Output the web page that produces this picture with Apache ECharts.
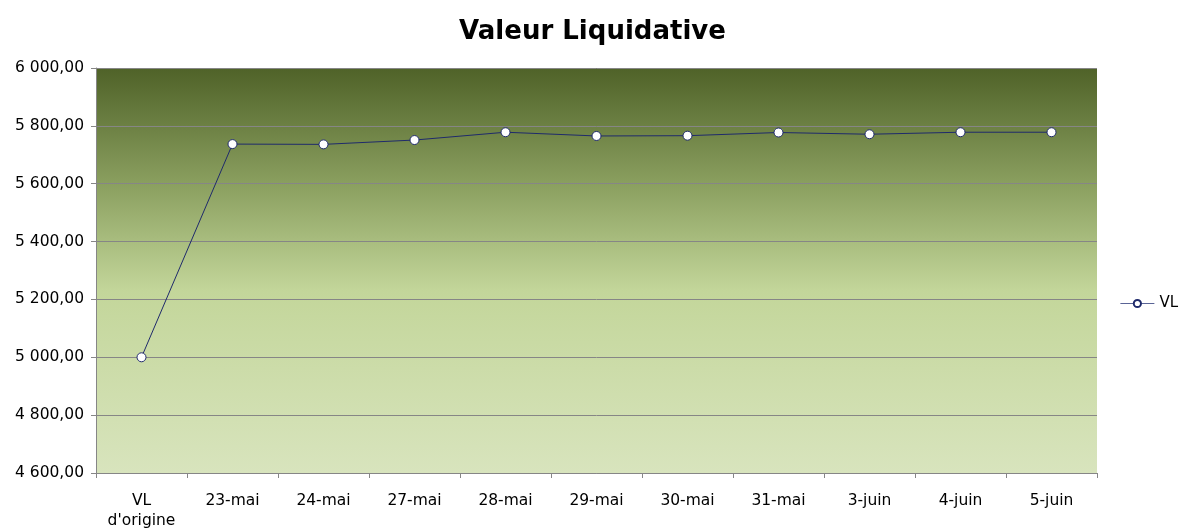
<!DOCTYPE html>
<html lang="fr">
<head>
    <meta http-equiv="Content-Type" content="text/html" charset="UTF-8">
    <script type="text/javascript" src="https://cdn.jsdelivr.net/npm/echarts@6/dist/echarts.min.js"></script>
    <style>
        html, body { margin: 0; padding: 0; background: #fff; }
        #chart { width: 1185px; height: 531px; }
    </style>
</head>
<body>
<div id="chart"></div>
<script type="text/javascript">
    var categories = ["VL\nd'origine", '23-mai', '24-mai', '27-mai', '28-mai', '29-mai', '30-mai', '31-mai', '3-juin', '4-juin', '5-juin'];
    var vlValues = [5000, 5737, 5736, 5751, 5778, 5765, 5766, 5777, 5771, 5778, 5778];

    function fmt(v) {
        var s = Math.round(v).toString().replace(/\B(?=(\d{3})+(?!\d))/g, ' ');
        return s + ',00';
    }

    var chart = echarts.init(document.getElementById('chart'));
    chart.setOption({
        animation: false,
        textStyle: { fontFamily: 'DejaVu Sans' },
        title: {
            text: 'Valeur Liquidative',
            left: 'center',
            top: 14,
            textStyle: { fontSize: 26, fontWeight: 'bold', color: '#000' }
        },
        legend: {
            right: 2,
            top: 291,
            itemWidth: 34,
            itemHeight: 9,
            itemGap: 4,
            data: ['VL'],
            lineStyle: { width: 1, color: '#5a6496' },
            textStyle: { fontSize: 15, color: '#000' }
        },
        grid: {
            left: 96,
            right: 88,
            top: 68,
            bottom: 58,
            show: true,
            borderWidth: 0,
            backgroundColor: new echarts.graphic.LinearGradient(0, 0, 0, 1, [
                { offset: 0, color: '#4f6228' },
                { offset: 0.3, color: '#8da262' },
                { offset: 0.55, color: '#c3d69a' },
                { offset: 1, color: '#d8e4bd' }
            ])
        },
        xAxis: {
            type: 'category',
            data: categories,
            boundaryGap: true,
            axisLine: { lineStyle: { color: '#868686' } },
            axisTick: { show: true, length: 5, lineStyle: { color: '#868686' } },
            axisLabel: { color: '#000', fontSize: 15.5, margin: 18, interval: 0, lineHeight: 20 }
        },
        yAxis: {
            type: 'value',
            min: 4600,
            max: 6000,
            interval: 200,
            axisLine: { show: true, lineStyle: { color: '#868686' } },
            axisTick: { show: true, length: 5, lineStyle: { color: '#868686' } },
            axisLabel: { color: '#000', fontSize: 15.5, margin: 12, formatter: fmt },
            splitLine: { lineStyle: { color: '#868686', width: 1 } }
        },
        series: [{
            name: 'VL',
            type: 'line',
            data: vlValues,
            symbol: 'circle',
            symbolSize: 9,
            lineStyle: { color: '#1f2a6b', width: 1 },
            itemStyle: { color: '#ffffff', borderColor: '#1f2a6b', borderWidth: 1 }
        }]
    });
</script>
</body>
</html>
